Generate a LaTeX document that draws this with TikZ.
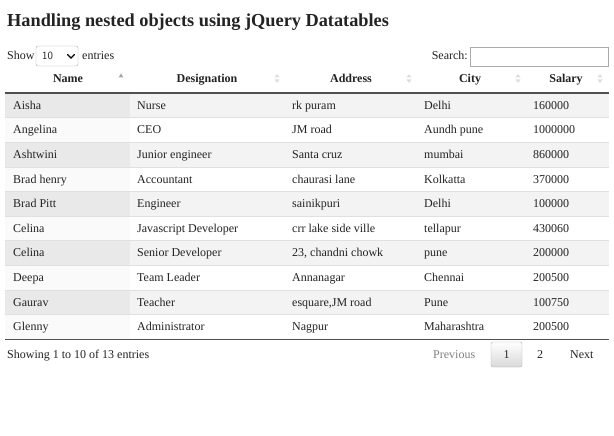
\documentclass[tikz,border=0pt]{standalone}
\usepackage{fontspec}
\setmainfont{Liberation Serif}
\usetikzlibrary{positioning}
\definecolor{stripe}{RGB}{243,243,243}
\definecolor{sortcol}{RGB}{233,233,233}
\definecolor{sortcolb}{RGB}{250,250,250}
\definecolor{rowline}{RGB}{224,224,224}
\definecolor{headline}{RGB}{80,80,80}
\definecolor{txt}{RGB}{35,35,35}
\definecolor{faint}{RGB}{222,222,222}
\definecolor{boxline}{RGB}{170,170,170}

\tikzset{
  cell/.style={anchor=west, inner sep=0pt, text height=10.5pt, text depth=2.5pt, text=txt, font=\fontsize{12}{14}\selectfont},
  head/.style={inner sep=0pt, text height=10.5pt, text depth=2.5pt, text=txt, font=\fontsize{12}{14}\selectfont\bfseries},
}
\newcommand{\sortboth}[1]{%
  \fill[faint] (#1-2.5,77.5) -- (#1+2.5,77.5) -- (#1,74) -- cycle;
  \fill[faint] (#1-2.5,79.5) -- (#1+2.5,79.5) -- (#1,83) -- cycle;}

\begin{document}
\begin{tikzpicture}[x=1pt,y=-1pt]
\useasboundingbox[fill=white] (0,0) rectangle (614,436);

\node [anchor=west, inner sep=0pt, text=txt, font=\fontsize{18.3}{21}\selectfont\bfseries] (title) at (7,22.5) {Handling nested objects using jQuery Datatables};

% length menu and search
\node [cell] (show) at (7,56) {Show};
\draw [boxline, rounded corners=2pt] (36,46) rectangle (78,66);
\node [cell, font=\fontsize{11}{13}\sffamily] (len) at (42,56) {10};
\draw [black, line width=1.3pt, line cap=round] (67.5,54.5) -- (71,58) -- (74.5,54.5);
\node [cell] (entries) at (82,56) {entries};
\node [cell, anchor=east] (search) at (468,56) {Search:};
\draw [boxline] (470,47) rectangle (608,66);

% header
\node [head] (hname) at (68,79) {Name};
\node [head] (hdesig) at (207,79) {Designation};
\node [head] (haddr) at (351,79) {Address};
\node [head] (hcity) at (470,79) {City};
\node [head] (hsal) at (566,79) {Salary};
\fill [gray!70] (118.5,77.5) -- (123.5,77.5) -- (121,73.5) -- cycle;
\sortboth{277} \sortboth{409} \sortboth{518} \sortboth{600}

% row backgrounds
\fill [stripe] (5,93) rectangle (609,117.6);   \fill [sortcol] (5,93) rectangle (130,117.6);
\fill [sortcolb] (5,117.6) rectangle (130,142.2);
\fill [stripe] (5,142.2) rectangle (609,166.8); \fill [sortcol] (5,142.2) rectangle (130,166.8);
\fill [sortcolb] (5,166.8) rectangle (130,191.4);
\fill [stripe] (5,191.4) rectangle (609,216);   \fill [sortcol] (5,191.4) rectangle (130,216);
\fill [sortcolb] (5,216) rectangle (130,240.6);
\fill [stripe] (5,240.6) rectangle (609,265.2); \fill [sortcol] (5,240.6) rectangle (130,265.2);
\fill [sortcolb] (5,265.2) rectangle (130,289.8);
\fill [stripe] (5,289.8) rectangle (609,314.4); \fill [sortcol] (5,289.8) rectangle (130,314.4);
\fill [sortcolb] (5,314.4) rectangle (130,339);

\draw [rowline] (5,117.6) -- (609,117.6) (5,142.2) -- (609,142.2) (5,166.8) -- (609,166.8) (5,191.4) -- (609,191.4);
\draw [rowline] (5,216) -- (609,216) (5,240.6) -- (609,240.6) (5,265.2) -- (609,265.2) (5,289.8) -- (609,289.8) (5,314.4) -- (609,314.4);
\draw [headline, line width=1.3pt] (5,93) -- (609,93);
\draw [headline, line width=1pt] (5,339) -- (609,339);

% rows
\node [cell] (name1) at (13,105.3) {Aisha};       \node [cell] (desig1) at (137,105.3) {Nurse};
\node [cell] (addr1) at (292,105.3) {rk puram};   \node [cell] (city1) at (424,105.3) {Delhi};      \node [cell] (sal1) at (533,105.3) {160000};
\node [cell] (name2) at (13,129.9) {Angelina};    \node [cell] (desig2) at (137,129.9) {CEO};
\node [cell] (addr2) at (292,129.9) {JM road};    \node [cell] (city2) at (424,129.9) {Aundh pune}; \node [cell] (sal2) at (533,129.9) {1000000};
\node [cell] (name3) at (13,154.5) {Ashtwini};    \node [cell] (desig3) at (137,154.5) {Junior engineer};
\node [cell] (addr3) at (292,154.5) {Santa cruz}; \node [cell] (city3) at (424,154.5) {mumbai};     \node [cell] (sal3) at (533,154.5) {860000};
\node [cell] (name4) at (13,179.1) {Brad henry};  \node [cell] (desig4) at (137,179.1) {Accountant};
\node [cell] (addr4) at (292,179.1) {chaurasi lane}; \node [cell] (city4) at (424,179.1) {Kolkatta}; \node [cell] (sal4) at (533,179.1) {370000};
\node [cell] (name5) at (13,203.7) {Brad Pitt};   \node [cell] (desig5) at (137,203.7) {Engineer};
\node [cell] (addr5) at (292,203.7) {sainikpuri}; \node [cell] (city5) at (424,203.7) {Delhi};      \node [cell] (sal5) at (533,203.7) {100000};
\node [cell] (name6) at (13,228.3) {Celina};      \node [cell] (desig6) at (137,228.3) {Javascript Developer};
\node [cell] (addr6) at (292,228.3) {crr lake side ville}; \node [cell] (city6) at (424,228.3) {tellapur}; \node [cell] (sal6) at (533,228.3) {430060};
\node [cell] (name7) at (13,252.9) {Celina};      \node [cell] (desig7) at (137,252.9) {Senior Developer};
\node [cell] (addr7) at (292,252.9) {23, chandni chowk}; \node [cell] (city7) at (424,252.9) {pune}; \node [cell] (sal7) at (533,252.9) {200000};
\node [cell] (name8) at (13,277.5) {Deepa};       \node [cell] (desig8) at (137,277.5) {Team Leader};
\node [cell] (addr8) at (292,277.5) {Annanagar};  \node [cell] (city8) at (424,277.5) {Chennai};    \node [cell] (sal8) at (533,277.5) {200500};
\node [cell] (name9) at (13,302.1) {Gaurav};      \node [cell] (desig9) at (137,302.1) {Teacher};
\node [cell] (addr9) at (292,302.1) {esquare,JM road}; \node [cell] (city9) at (424,302.1) {Pune};  \node [cell] (sal9) at (533,302.1) {100750};
\node [cell] (name10) at (13,326.7) {Glenny};     \node [cell] (desig10) at (137,326.7) {Administrator};
\node [cell] (addr10) at (292,326.7) {Nagpur};    \node [cell] (city10) at (424,326.7) {Maharashtra}; \node [cell] (sal10) at (533,326.7) {200500};

% footer
\node [cell] (info) at (7,354) {Showing 1 to 10 of 13 entries};
\node [cell, text=gray] (prev) at (433,354) {Previous};
\shade [top color=white, bottom color=black!15, rounded corners=2pt] (491,342) rectangle (522,367);
\draw [black!30, rounded corners=2pt] (491,342) rectangle (522,367);
\node [head, font=\fontsize{12}{14}\selectfont] (page1) at (506.5,354.5) {1};
\node [head, font=\fontsize{12}{14}\selectfont] (page2) at (540,354.5) {2};
\node [cell] (next) at (570,354) {Next};
\end{tikzpicture}
\end{document}
